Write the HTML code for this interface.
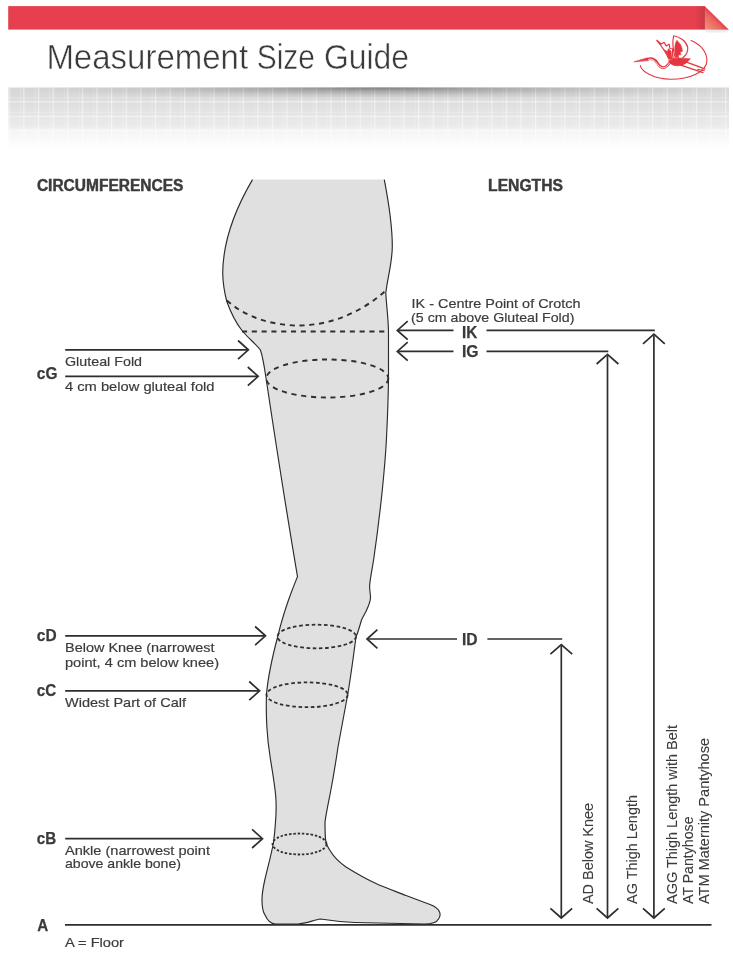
<!DOCTYPE html>
<html lang="en">
<head>
<meta charset="utf-8">
<title>Measurement Size Guide</title>
<style>
html,body{margin:0;padding:0;background:#fff;}
body{width:733px;height:967px;overflow:hidden;position:relative;font-family:"Liberation Sans",sans-serif;}
svg{position:absolute;left:0;top:0;display:block;will-change:transform;}
text{font-family:"Liberation Sans",sans-serif;fill:#3a3a3a;}
.b{font-weight:bold;font-size:16.6px;fill:#3a3a3a;stroke:#3a3a3a;stroke-width:0.25;}
.h{font-weight:bold;font-size:15.6px;fill:#3c3c3c;stroke:#3c3c3c;stroke-width:0.45;}
.t{font-size:13.6px;fill:#3c3c3c;stroke:#3c3c3c;stroke-width:0.2;}
.v{font-size:14.3px;stroke-width:0.1;}
.ln{stroke:#2e2e2e;stroke-width:1.7;fill:none;}
.ah{stroke:#2e2e2e;stroke-width:1.7;fill:none;stroke-linejoin:miter;}
.d{stroke:#2f2f2f;stroke-width:1.9;fill:none;stroke-dasharray:5.1 4.7;}
.dd{stroke:#2f2f2f;stroke-width:1.8;fill:none;stroke-dasharray:3.6 2.6;}
</style>
</head>
<body>
<svg width="733" height="967" viewBox="0 0 733 967">
<defs>
<linearGradient id="gb" gradientUnits="userSpaceOnUse" x1="0" y1="87.4" x2="0" y2="152">
<stop offset="0" stop-color="#d5d5d5"/>
<stop offset="0.2" stop-color="#dddddd"/>
<stop offset="0.43" stop-color="#e5e5e5"/>
<stop offset="0.62" stop-color="#ebebeb"/>
<stop offset="0.65" stop-color="#f4f4f4"/>
<stop offset="0.8" stop-color="#f9f9f9"/>
<stop offset="0.92" stop-color="#fefefe"/>
<stop offset="1" stop-color="#ffffff"/>
</linearGradient>
<linearGradient id="gl" x1="0" y1="0" x2="0" y2="1">
<stop offset="0" stop-color="#fff" stop-opacity="0.35"/>
<stop offset="1" stop-color="#fff" stop-opacity="0.6"/>
</linearGradient>
<pattern id="grid" x="8.7" y="86.5" width="14.62" height="14.62" patternUnits="userSpaceOnUse">
<rect x="0" y="0" width="1.2" height="14.62" fill="#fff" fill-opacity="0.5"/>
<rect x="0" y="0" width="14.62" height="1.2" fill="#fff" fill-opacity="0.5"/>
<rect x="11.4" y="0" width="0.9" height="14.62" fill="#fff" fill-opacity="0.22"/>
<rect x="0" y="10.9" width="14.62" height="0.9" fill="#fff" fill-opacity="0.25"/>
</pattern>
<radialGradient id="shd" cx="380" cy="87.4" r="1" gradientUnits="userSpaceOnUse" gradientTransform="translate(380 87.4) scale(360 13) translate(-380 -87.4)">
<stop offset="0" stop-color="#000" stop-opacity="0.42"/>
<stop offset="0.3" stop-color="#000" stop-opacity="0.22"/>
<stop offset="0.65" stop-color="#000" stop-opacity="0.07"/>
<stop offset="1" stop-color="#000" stop-opacity="0"/>
</radialGradient>
<linearGradient id="fold" gradientUnits="userSpaceOnUse" x1="717" y1="18" x2="705" y2="30">
<stop offset="0" stop-color="#e0414d"/>
<stop offset="0.25" stop-color="#e9675f"/>
<stop offset="1" stop-color="#f3947f"/>
</linearGradient>
<linearGradient id="bar" x1="0" y1="0" x2="1" y2="0">
<stop offset="0" stop-color="#e6404e"/>
<stop offset="0.985" stop-color="#e6404e"/>
<stop offset="1" stop-color="#c93a47"/>
</linearGradient>
</defs>

<!-- header -->
<rect x="8.2" y="6.1" width="696.8" height="23.5" fill="url(#bar)"/>
<path d="M705 30 L729.5 30 L726 32.5 L706 32.5 Z" fill="#000" fill-opacity="0.07"/>
<path d="M704.9 6.3 L728.9 29.7 L704.9 29.7 Z" fill="url(#fold)"/>
<g font-size="35" style="fill:#3c3c3c;stroke:#fff;stroke-width:0.5">
<text x="46.4" y="69.2" textLength="201.7" lengthAdjust="spacingAndGlyphs">Measurement</text>
<text x="256.7" y="69.2" textLength="58.2" lengthAdjust="spacingAndGlyphs">Size</text>
<text x="323.9" y="69.2" textLength="85" lengthAdjust="spacingAndGlyphs">Guide</text>
</g>

<!-- grey band -->
<rect x="8.3" y="87.4" width="720.7" height="64.6" fill="url(#gb)"/>
<rect x="8.3" y="87.4" width="720.7" height="64.6" fill="url(#grid)"/>
<rect x="8.3" y="87.4" width="720.7" height="16" fill="url(#shd)"/>

<g id="logo" transform="translate(625 28) scale(0.1296)" stroke-linejoin="round" stroke-linecap="round">
<path d="M118 290 C130 340 230 395 350 395 C500 395 630 340 632 250 C632 190 590 130 510 97" fill="none" stroke="#e3363f" stroke-width="8.5"/>
<path d="M72 260 L170 231 L178 249 Z" fill="#e3363f" stroke="#e3363f" stroke-width="5"/>
<path d="M172 240 C205 232 232 244 248 268 C262 290 276 306 296 306 C318 304 334 284 350 262" fill="none" stroke="#e3363f" stroke-width="21"/>
<path d="M182 241 C206 237 228 249 244 271 C258 292 274 308 296 307 C316 305 330 290 342 272" fill="none" stroke="#fff" stroke-width="6.5"/>
<path d="M338 254 C365 232 420 226 460 236 L505 238 L484 258 C470 276 440 292 400 292 C372 290 346 278 338 254 Z" fill="#e3363f" stroke="#e3363f" stroke-width="5"/>
<path d="M470 262 L615 316" fill="none" stroke="#e3363f" stroke-width="11"/>
<path d="M430 286 L602 344" fill="none" stroke="#e3363f" stroke-width="10"/>
<path d="M560 318 L612 330" fill="none" stroke="#e3363f" stroke-width="8"/>
<path d="M338 240 C322 200 292 150 245 95 L280 124 L302 110 L317 138 L342 126 L346 158 L368 160 C362 185 366 215 374 238" fill="none" stroke="#e3363f" stroke-width="9"/>
<path d="M340 240 C332 212 318 190 300 168 L328 182 L334 160 L356 178 C355 200 360 222 368 240 Z" fill="#e3363f" stroke="#e3363f" stroke-width="4"/>
<path d="M388 230 C370 170 364 110 375 60 C422 68 472 100 484 150 C488 186 468 212 446 230" fill="none" stroke="#e3363f" stroke-width="9"/>
<path d="M392 228 C378 175 382 122 400 94 C424 116 446 150 442 182 L426 186 L432 206 L414 208 L412 230 Z" fill="#e3363f" stroke="#e3363f" stroke-width="4"/>
</g>

<!-- headings -->
<text class="h" x="36.9" y="191.4" textLength="146.5" lengthAdjust="spacingAndGlyphs">CIRCUMFERENCES</text>
<text class="h" x="488.1" y="191.4" textLength="74.8" lengthAdjust="spacingAndGlyphs">LENGTHS</text>

<!-- leg -->
<path id="leg" fill="#e0e0e0" stroke="none" d="M252.5 179.6
 C237 206 223 240 222.7 273
 C222.9 284 224.6 293 226.8 301.5
 C231 313 236 323 242 330.5
 C248 338 256 344 260.4 350
 C262.6 356 264.4 367 266 378
 C272 418 284.5 500 297.5 576.6
 C294 585 291 593 288.5 600
 C284 613 280.5 625 278 635.5
 C272 658 268 677 266.5 694
 C266.1 705 266.3 716 266.8 726
 C267.3 736 268.6 748 270.4 759
 C272.4 771 274.8 785 275.8 797
 C276.4 806 276.2 814 275.5 822
 C275 830 274.3 837 273.4 843
 C271 856 267.5 868 265 879
 C263 888 261.8 894 262 900
 C262 907 263 912 265 915
 C267 919.5 271 924 275.5 924
 L298 924
 C306 923.5 314 920 320.5 919
 C330 920.5 342 922 355 922.5
 L424 924
 C432 924 437 922 438.5 919
 C440.5 916 440.5 914 439.5 912
 C438 908 434 906 430 904.5
 C422 901.5 414 898.5 406 895.5
 C396 891.5 386 888 376 883.5
 C365 878.5 354 872 346 867
 C339 862 334 857 331 852
 C327.5 847 326 844 325.6 840
 C325 834 325 828 325 822
 C326.3 812 328.6 802 330.5 792
 C333.4 777 335.8 762 338 747
 C341.3 729 344.8 711 347.8 694
 C351 675 353.5 656 356 637
 C358.5 631 360 625 361.5 620
 C363 616.5 365 613.5 366.2 611
 C368.5 606 370.8 601 370.5 597
 C370.2 592 369.3 588.5 369.7 584.6
 C370.5 577 372.3 568 373.6 560
 C376.8 538 380 512 382.3 490
 C384.3 470 385.8 452 386.4 440
 C387.4 420 388.2 400 388.5 380
 L388.5 332
 C388.3 318 386.4 305 385.8 293
 C387.4 278 392.3 263 392.3 246
 C392.3 224 388.6 202 384.3 179.6
 Z"/>
<path fill="none" stroke="#2b2b2b" stroke-width="1.15" stroke-linejoin="round" d="M252.5 179.6
 C237 206 223 240 222.7 273
 C222.9 284 224.6 293 226.8 301.5
 C231 313 236 323 242 330.5
 C248 338 256 344 260.4 350
 C262.6 356 264.4 367 266 378
 C272 418 284.5 500 297.5 576.6
 C294 585 291 593 288.5 600
 C284 613 280.5 625 278 635.5
 C272 658 268 677 266.5 694
 C266.1 705 266.3 716 266.8 726
 C267.3 736 268.6 748 270.4 759
 C272.4 771 274.8 785 275.8 797
 C276.4 806 276.2 814 275.5 822
 C275 830 274.3 837 273.4 843
 C271 856 267.5 868 265 879
 C263 888 261.8 894 262 900
 C262 907 263 912 265 915
 C267 919.5 271 924 275.5 924
 L298 924
 C306 923.5 314 920 320.5 919
 C330 920.5 342 922 355 922.5
 L424 924
 C432 924 437 922 438.5 919
 C440.5 916 440.5 914 439.5 912
 C438 908 434 906 430 904.5
 C422 901.5 414 898.5 406 895.5
 C396 891.5 386 888 376 883.5
 C365 878.5 354 872 346 867
 C339 862 334 857 331 852
 C327.5 847 326 844 325.6 840
 C325 834 325 828 325 822
 C326.3 812 328.6 802 330.5 792
 C333.4 777 335.8 762 338 747
 C341.3 729 344.8 711 347.8 694
 C351 675 353.5 656 356 637
 C358.5 631 360 625 361.5 620
 C363 616.5 365 613.5 366.2 611
 C368.5 606 370.8 601 370.5 597
 C370.2 592 369.3 588.5 369.7 584.6
 C370.5 577 372.3 568 373.6 560
 C376.8 538 380 512 382.3 490
 C384.3 470 385.8 452 386.4 440
 C387.4 420 388.2 400 388.5 380
 L388.5 332
 C388.3 318 386.4 305 385.8 293
 C387.4 278 392.3 263 392.3 246
 C392.3 224 388.6 202 384.3 179.6"/>

<!-- dashed rings -->
<path class="d" d="M227 300.5 C245 317 272 325.5 299 325.5 C330 325.5 362 312 384.6 291.5"/>
<path class="d" d="M242 331.5 L388.5 331.5"/>
<ellipse class="d" cx="327.3" cy="378.5" rx="61" ry="19"/>
<ellipse class="dd" cx="316.7" cy="636.5" rx="39.3" ry="11.8"/>
<ellipse class="dd" cx="307.1" cy="694.8" rx="40.6" ry="12.4"/>
<ellipse class="dd" style="stroke-dasharray:2.5 1.8" cx="299.5" cy="844" rx="27" ry="10.5"/>

<!-- floor -->
<path class="ln" d="M65 924.8 L711.5 924.8"/>

<!-- left arrows -->
<g id="larrows">
<path class="ln" d="M65.2 349.8 H247.4"/><path class="ah" d="M238.0 340.5 L248.4 349.8 L238.0 359.1"/>
<path class="ln" d="M65.2 376.3 H257.2"/><path class="ah" d="M247.8 367.0 L258.2 376.3 L247.8 385.6"/>
<path class="ln" d="M65.2 635.8 H264.5"/><path class="ah" d="M255.1 626.5 L265.5 635.8 L255.1 645.1"/>
<path class="ln" d="M65.2 690.8 H258.6"/><path class="ah" d="M249.2 681.5 L259.6 690.8 L249.2 700.1"/>
<path class="ln" d="M65.2 838.7 H261.5"/><path class="ah" d="M252.1 829.4 L262.5 838.7 L252.1 848.0"/>
</g>

<!-- left labels -->
<text class="b" x="36.8" y="378.6" textLength="20.6" lengthAdjust="spacingAndGlyphs">cG</text>
<text class="t" x="65" y="366" textLength="77" lengthAdjust="spacingAndGlyphs">Gluteal Fold</text>
<text class="t" x="65" y="391" textLength="149.5" lengthAdjust="spacingAndGlyphs">4 cm below gluteal fold</text>
<text class="b" x="36.8" y="641.2" textLength="19.8" lengthAdjust="spacingAndGlyphs">cD</text>
<text class="t" x="65" y="652" textLength="149.5" lengthAdjust="spacingAndGlyphs">Below Knee (narrowest</text>
<text class="t" x="65" y="666.8" textLength="154" lengthAdjust="spacingAndGlyphs">point, 4 cm below knee)</text>
<text class="b" x="36.8" y="696.3" textLength="19.4" lengthAdjust="spacingAndGlyphs">cC</text>
<text class="t" x="65" y="707" textLength="121" lengthAdjust="spacingAndGlyphs">Widest Part of Calf</text>
<text class="b" x="36.8" y="843.5" textLength="19.4" lengthAdjust="spacingAndGlyphs">cB</text>
<text class="t" x="65" y="854.7" textLength="145" lengthAdjust="spacingAndGlyphs">Ankle (narrowest point</text>
<text class="t" x="65" y="867.7" textLength="116" lengthAdjust="spacingAndGlyphs">above ankle bone)</text>
<text class="b" x="37.2" y="930.8" textLength="11.0" lengthAdjust="spacingAndGlyphs">A</text>
<text class="t" x="65" y="946.5" textLength="59" lengthAdjust="spacingAndGlyphs">A = Floor</text>

<!-- right arrows -->
<g id="rarrows">
<path class="ah" d="M407.7 321.1 L397.3 330.4 L407.7 339.7"/><path class="ln" d="M398.3 330.4 H453.5"/><path class="ln" d="M486.5 330.4 H654.8"/>
<path class="ah" d="M407.7 342.1 L397.3 351.4 L407.7 360.7"/><path class="ln" d="M398.3 351.4 H453.5"/><path class="ln" d="M486.5 351.4 H608.3"/>
<path class="ah" d="M377.4 629.7 L367 639.0 L377.4 648.3"/><path class="ln" d="M368 639.0 H457"/><path class="ln" d="M487.4 639.0 H562.2"/>
<path class="ln" d="M561.3 645.6 V917.0"/><path class="ah" d="M550.4 654.2 L561.3 644.6 L572.2 654.2"/><path class="ah" d="M550.4 908.4 L561.3 918 L572.2 908.4"/>
<path class="ln" d="M607.5 355.4 V917.0"/><path class="ah" d="M596.6 364.0 L607.5 354.4 L618.4 364.0"/><path class="ah" d="M596.6 908.4 L607.5 918 L618.4 908.4"/>
<path class="ln" d="M653.9 335.2 V917.0"/><path class="ah" d="M643.0 343.8 L653.9 334.2 L664.8 343.8"/><path class="ah" d="M643.0 908.4 L653.9 918 L664.8 908.4"/>
</g>

<!-- right labels -->
<text class="t" x="411.6" y="308" textLength="169" lengthAdjust="spacingAndGlyphs">IK - Centre Point of Crotch</text>
<text class="t" x="411.1" y="322" textLength="163.3" lengthAdjust="spacingAndGlyphs">(5 cm above Gluteal Fold)</text>
<text class="b" x="461.9" y="337.5" textLength="15.3" lengthAdjust="spacingAndGlyphs">IK</text>
<text class="b" x="461.9" y="356.6" textLength="16.6" lengthAdjust="spacingAndGlyphs">IG</text>
<text class="b" x="461.9" y="645.3" textLength="15.6" lengthAdjust="spacingAndGlyphs">ID</text>

<!-- vertical labels -->
<text class="t v" transform="translate(592.9 904) rotate(-90)" textLength="101" lengthAdjust="spacingAndGlyphs">AD Below Knee</text>
<text class="t v" transform="translate(636.9 904) rotate(-90)" textLength="109" lengthAdjust="spacingAndGlyphs">AG Thigh Length</text>
<text class="t v" transform="translate(677.4 904) rotate(-90)" textLength="179" lengthAdjust="spacingAndGlyphs">AGG Thigh Length with Belt</text>
<text class="t v" transform="translate(692.9 904) rotate(-90)" textLength="87.5" lengthAdjust="spacingAndGlyphs">AT Pantyhose</text>
<text class="t v" transform="translate(708.9 904) rotate(-90)" textLength="166" lengthAdjust="spacingAndGlyphs">ATM Maternity Pantyhose</text>
</svg>
</body>
</html>
